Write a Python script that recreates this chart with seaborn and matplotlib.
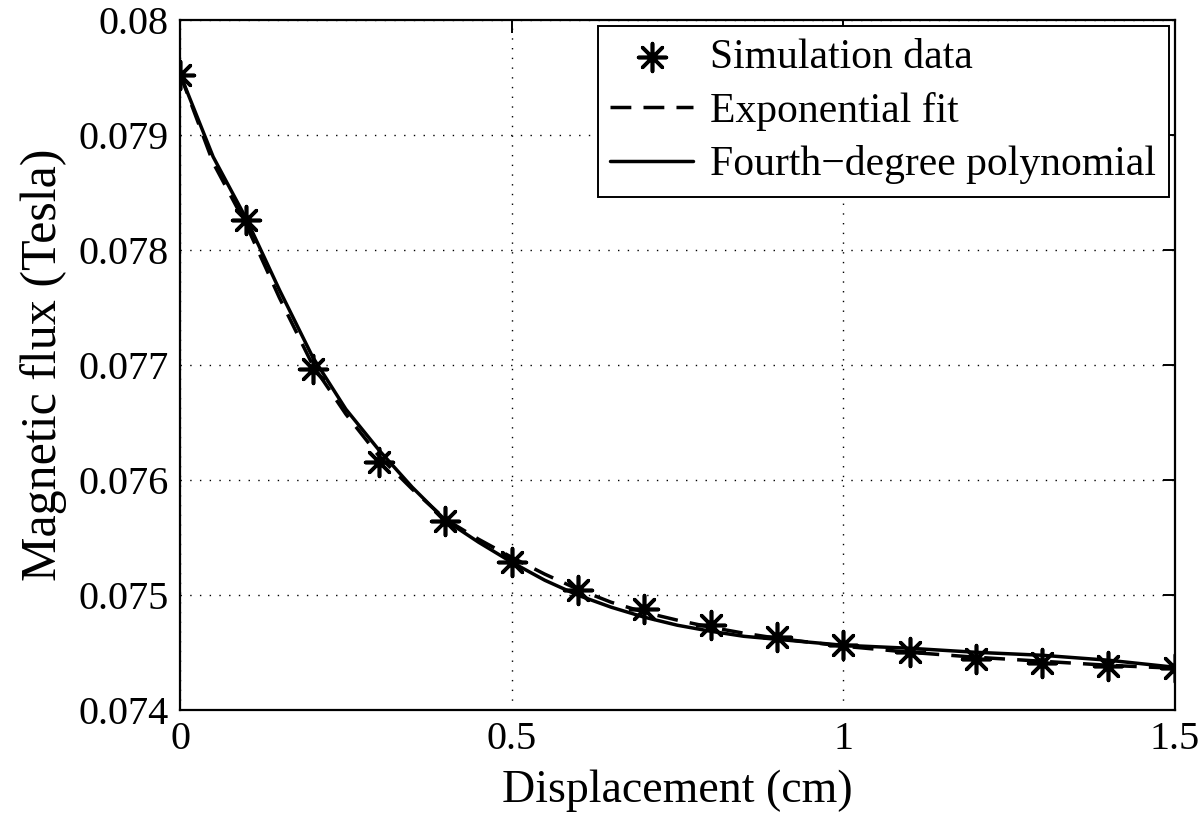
"""
Magnetic flux vs displacement: simulation points with exponential and
fourth-degree polynomial fits, drawn in a MATLAB-like style.
"""

import matplotlib
matplotlib.use("Agg")
import matplotlib.pyplot as plt
import pandas as pd
import seaborn as sns
from matplotlib.ticker import FixedLocator, FuncFormatter

# simulation points
disp_sim = [0.0, 0.1, 0.2, 0.3, 0.4, 0.5, 0.6, 0.7, 0.8, 0.9,
            1.0, 1.1, 1.2, 1.3, 1.4, 1.5]
flux_sim = [0.079522, 0.078261, 0.076965, 0.076157, 0.075643, 0.075287,
            0.075043, 0.074878, 0.074739, 0.074635, 0.074565, 0.074504,
            0.074443, 0.074409, 0.074383, 0.074365]

# fitted curves
disp_fit = [0.0, 0.05, 0.1, 0.15, 0.2, 0.25, 0.3, 0.35, 0.4, 0.45, 0.5,
            0.55, 0.6, 0.65, 0.7, 0.75, 0.8, 0.85, 0.9, 0.95, 1.0,
            1.1, 1.2, 1.3, 1.4, 1.5]
flux_exp = [0.079530, 0.078757, 0.078217, 0.077583, 0.077000, 0.076574,
            0.076209, 0.075922, 0.075661, 0.075487, 0.075330, 0.075183,
            0.075052, 0.074939, 0.074852, 0.074783, 0.074722, 0.074670,
            0.074626, 0.074591, 0.074557, 0.074504, 0.074461, 0.074426,
            0.074391, 0.074365]
flux_poly = [0.079530, 0.078809, 0.078270, 0.077652, 0.077070, 0.076617,
             0.076261, 0.075939, 0.075652, 0.075461, 0.075287, 0.075130,
             0.075000, 0.074896, 0.074809, 0.074739, 0.074687, 0.074643,
             0.074617, 0.074591, 0.074565, 0.074539, 0.074504, 0.074478,
             0.074435, 0.074374]

x_ticks = [0, 0.5, 1, 1.5]
y_ticks = [0.074, 0.075, 0.076, 0.077, 0.078, 0.079, 0.08]


def main():
    sns.set_style("white")
    plt.rcParams["font.family"] = ["Liberation Serif", "DejaVu Serif"]
    plt.rcParams["text.color"] = "black"
    plt.rcParams["axes.labelcolor"] = "black"

    sim = pd.DataFrame({"disp": disp_sim, "flux": flux_sim})
    fits = pd.DataFrame({"disp": disp_fit, "exp": flux_exp, "poly": flux_poly})

    fig = plt.figure(figsize=(12, 8.24), dpi=100)
    ax = fig.add_axes([0.15, 0.138, 0.829, 0.838])

    ax.grid(True, color="black", linestyle=(0, (1, 6)), linewidth=1.0)
    ax.set_axisbelow(True)

    sns.scatterplot(data=sim, x="disp", y="flux", ax=ax, marker=(8, 2, 0),
                    s=400, color="black", linewidth=2.6, zorder=3,
                    label="Simulation data")
    sns.lineplot(data=fits, x="disp", y="exp", ax=ax, color="black",
                 linewidth=2.5, linestyle=(0, (6, 3.5)), estimator=None,
                 label="Exponential fit")
    sns.lineplot(data=fits, x="disp", y="poly", ax=ax, color="black",
                 linewidth=2.5, estimator=None,
                 label="Fourth\u2212degree polynomial")

    ax.set_xlim(0, 1.5)
    ax.set_ylim(0.074, 0.08)
    ax.xaxis.set_major_locator(FixedLocator(x_ticks))
    ax.yaxis.set_major_locator(FixedLocator(y_ticks))
    fmt = FuncFormatter(lambda v, pos: f"{v:g}")
    ax.xaxis.set_major_formatter(fmt)
    ax.yaxis.set_major_formatter(fmt)

    ax.tick_params(direction="in", length=9, width=1.4, labelsize=29,
                   top=True, right=True, pad=8, colors="black")
    for sp in ax.spines.values():
        sp.set_color("black")
        sp.set_linewidth(1.6)

    ax.set_xlabel("Displacement (cm)", fontsize=33, labelpad=8, color="black")
    ax.set_ylabel("Magnetic flux (Tesla)", fontsize=36, labelpad=8,
                  color="black")

    leg = ax.legend(loc="upper right", fontsize=30, frameon=True,
                    fancybox=False, handlelength=2.0, handletextpad=0.4,
                    borderpad=0.3, labelspacing=0.35, borderaxespad=0.15)
    leg.get_frame().set_edgecolor("black")
    leg.get_frame().set_linewidth(1.4)
    leg.get_frame().set_alpha(1.0)

    fig.savefig("out.png", dpi=100, facecolor="white")
    plt.close(fig)


if __name__ == "__main__":
    main()
